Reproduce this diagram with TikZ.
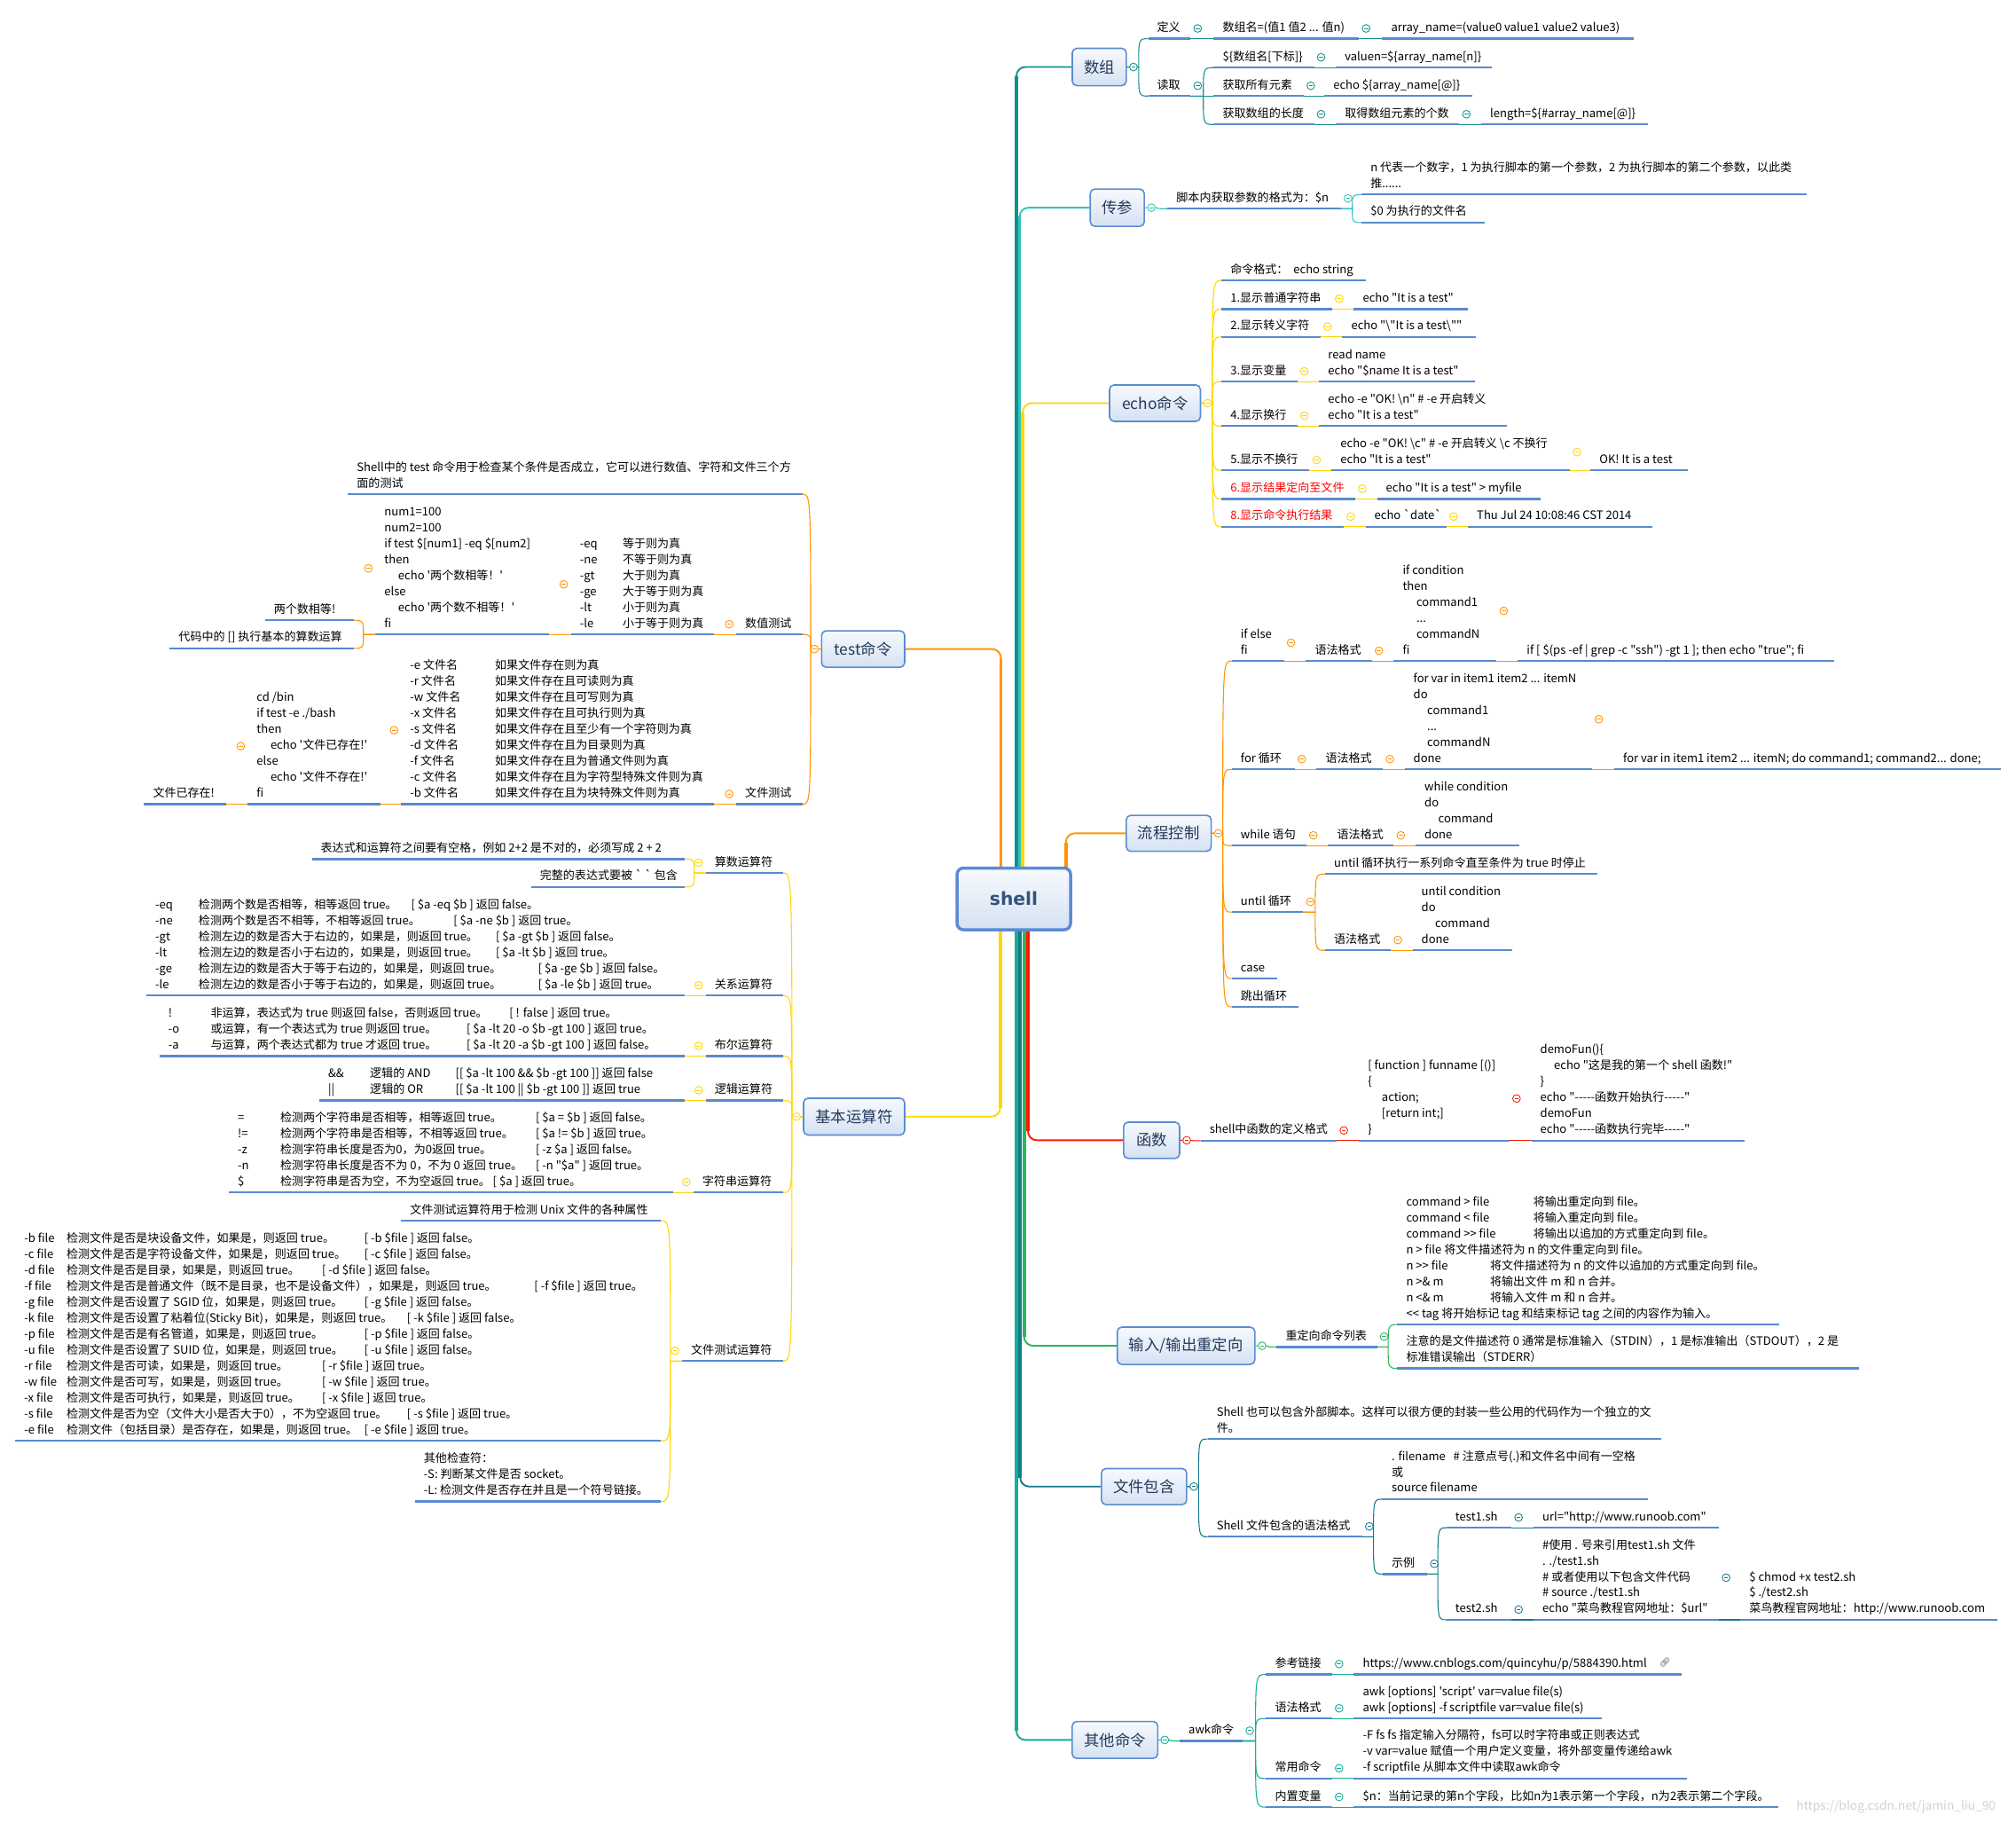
\documentclass[tikz,border=0pt]{standalone}
\usepackage{fontspec}
\usetikzlibrary{calc}
\newfontfamily\cnf{Noto Sans CJK SC}
\newfontfamily\dvs{DejaVu Sans}
\newfontfamily\emo{Noto Emoji}
\pgfdeclarelayer{bg}
\pgfsetlayers{bg,main}
\definecolor{ulb}{RGB}{88,138,208}
\definecolor{cteal}{RGB}{18,145,140}
\definecolor{cturq}{RGB}{48,196,186}
\definecolor{cyel}{RGB}{255,215,0}
\definecolor{cora}{RGB}{255,148,0}
\definecolor{cred}{RGB}{255,25,0}
\definecolor{cgrn}{RGB}{40,185,90}
\definecolor{cblu}{RGB}{22,122,140}
\definecolor{cqt}{RGB}{20,175,150}
\definecolor{boxb}{RGB}{90,140,210}
\definecolor{boxt}{RGB}{35,58,92}
\definecolor{fillt}{RGB}{247,250,254}
\definecolor{fillb}{RGB}{213,225,242}
\definecolor{shellt}{RGB}{52,82,125}
\tikzset{
  tp/.style={anchor=south west,inner xsep=7pt,inner ysep=1.8pt,outer sep=0pt,font=\cnf\fontsize{9}{12.4}\selectfont},
  ul/.style={draw=ulb,line width=1.6pt},
  cnl/.style={line width=0.75pt},
  mbox/.style={draw=boxb,line width=1.1pt,rounded corners=3.5pt,top color=fillt,bottom color=fillb,text=boxt,font=\cnf\fontsize{12}{14}\selectfont,inner sep=0pt},
  trk/.style={line width=2.6pt},
  trt/.style={line width=1.3pt,rounded corners=7pt}
}
\newcommand\tp[6][]{\pgfmathsetmacro\tpw{#4-#3-14}\node[tp,#1] (#2) at (#3,#5) {\makebox[\tpw pt][l]{\begin{tabular}[b]{@{}l@{}}#6\end{tabular}}};\draw[ul] (#2.south west) -- (#2.south east);}
\newcommand\cc[2]{\makebox[#1pt][l]{#2}}
\newcommand\ind{\hspace*{10.7pt}}
\newcommand\cn[3][]{\draw[cnl,#1] let \p1=(#2), \p2=(#3), \n1={\x1+0.55*(\x2-\x1)} in (\p1) -- (\n1,\y1) .. controls (\n1,\y2) .. (\p2);}
\newcommand\jR[3]{\cn[#1]{#2.south east}{#3.south west}}
\newcommand\jL[3]{\cn[#1]{#2.south west}{#3.south east}}
\newcommand\cR[2]{\draw[#1,fill=white,line width=0.6pt] ([xshift=5.5pt]#2.east) circle (3pt);\draw[#1,line width=0.6pt] ([xshift=3.9pt]#2.east) -- ([xshift=7.1pt]#2.east);}
\newcommand\cL[2]{\draw[#1,fill=white,line width=0.6pt] ([xshift=-5.5pt]#2.west) circle (3pt);\draw[#1,line width=0.6pt] ([xshift=-3.9pt]#2.west) -- ([xshift=-7.1pt]#2.west);}
\newcommand\trunk[3]{\begin{pgfonlayer}{bg}\draw[#1,trk] (#2) -- ($(#2 |- #3)!7pt!(#2)$);\draw[#1,trt] ($(#2 |- #3)!12pt!(#2)$) |- (#3);\end{pgfonlayer}}
\begin{document}
\begin{tikzpicture}[x=1pt,y=-1pt]
\useasboundingbox (0,0) rectangle (1568,1417);
\begin{pgfonlayer}{bg}
\fill[white] (0,0) rectangle (1568,1417);
\end{pgfonlayer}
% ---------- main boxes ----------
\node[mbox,line width=2.4pt,rounded corners=5pt,minimum width=88.3pt,minimum height=48pt,font=\dvs\bfseries\fontsize{14}{16}\selectfont,text=shellt] (shell) at (788.5,699) {shell};
\node[mbox,minimum width=42pt,minimum height=29pt] (sz) at (855,52.1) {数组};
\node[mbox,minimum width=42pt,minimum height=29pt] (cc) at (869,161.5) {传参};
\node[mbox,minimum width=70.7pt,minimum height=28.3pt] (ec) at (898.3,313.5) {echo命令};
\node[mbox,minimum width=66pt,minimum height=28pt] (lc) at (909,648) {流程控制};
\node[mbox,minimum width=43.5pt,minimum height=28.2pt] (hs) at (895.7,886.7) {函数};
\node[mbox,minimum width=107pt,minimum height=29pt] (io) at (922.5,1046.5) {输入/输出重定向};
\node[mbox,minimum width=66.3pt,minimum height=28pt] (wj) at (889.8,1156) {文件包含};
\node[mbox,minimum width=66.5pt,minimum height=28.7pt] (qt) at (867.2,1353) {其他命令};
\node[mbox,minimum width=64.6pt,minimum height=28.3pt] (ts) at (671.3,504.7) {test命令};
\node[mbox,minimum width=78.6pt,minimum height=28.6pt] (jb) at (664.3,868.3) {基本运算符};
% ---------- trunks ----------
\coordinate (k1) at (790.5,676);
\coordinate (k2) at (793,676);
\coordinate (k3) at (795.5,676);
\coordinate (k4) at (829,676);
\coordinate (k5) at (778.5,676);
\coordinate (k6) at (778,722);
\coordinate (k7) at (799.5,722);
\coordinate (k8) at (796.5,722);
\coordinate (k9) at (793.5,722);
\coordinate (k10) at (790.5,722);
\trunk{cteal}{k1}{sz.west}
\trunk{cturq}{k2}{cc.west}
\trunk{cyel}{k3}{ec.west}
\trunk{cora}{k4}{lc.west}
\trunk{cora}{k5}{ts.east}
\trunk{cyel}{k6}{jb.east}
\trunk{cred}{k7}{hs.west}
\trunk{cgrn}{k8}{io.west}
\trunk{cblu}{k9}{wj.west}
\trunk{cqt}{k10}{qt.west}
% ---------- 数组 ----------
\tp{a1}{893}{926}{30.1}{定义}
\tp{a2}{944}{1057}{30.1}{数组名=(值1 值2 ... 值n)}
\tp{a3}{1075}{1271}{30.1}{array\_name=(value0 value1 value2 value3)}
\tp{a4}{893}{926}{74.7}{读取}
\tp{a5}{944}{1022}{52.6}{\$\{数组名[下标]\}}
\tp{a6}{1039}{1160}{52.6}{valuen=\$\{array\_name[n]\}}
\tp{a7}{944}{1014}{74.7}{获取所有元素}
\tp{a8}{1030}{1145}{74.7}{echo \$\{array\_name[@]\}}
\tp{a9}{944}{1022}{96.8}{获取数组的长度}
\tp{a10}{1039}{1135}{96.8}{取得数组元素的个数}
\tp{a11}{1152}{1282}{96.8}{length=\$\{\#array\_name[@]\}}
\cn[cteal]{sz.east}{a1.south west}
\cn[cteal]{sz.east}{a4.south west}
\jR{cteal}{a1}{a2}\jR{cteal}{a2}{a3}
\jR{cteal}{a4}{a5}\jR{cteal}{a4}{a7}\jR{cteal}{a4}{a9}
\jR{cteal}{a5}{a6}\jR{cteal}{a7}{a8}\jR{cteal}{a9}{a10}\jR{cteal}{a10}{a11}
% ---------- 传参 ----------
\tp{b1}{908}{1043}{162.3}{脚本内获取参数的格式为：\$n}
\tp{b2}{1059}{1405}{151.3}{n 代表一个数字，1 为执行脚本的第一个参数，2 为执行脚本的第二个参数，以此类\\推......}
\tp{b3}{1059}{1155}{173.1}{\$0 为执行的文件名}
\cn[cturq]{cc.east}{b1.south west}
\jR{cturq}{b1}{b2}\jR{cturq}{b1}{b3}
% ---------- echo ----------
\tp{e0}{950}{1062}{218}{命令格式：\ \ echo string}
\tp{e1}{950}{1036}{240.3}{1.显示普通字符串}
\tp{e1a}{1053}{1142}{240.3}{echo "It is a test"}
\tp{e2}{950}{1027}{262}{2.显示转义字符}
\tp{e2a}{1044}{1148}{262}{echo "\textbackslash"It is a test\textbackslash""}
\tp{e3}{950}{1009}{296.8}{3.显示变量}
\tp{e3a}{1026}{1147}{296.8}{read name\\echo "\$name It is a test"}
\tp{e4}{950}{1009}{331.3}{4.显示换行}
\tp{e4a}{1026}{1172}{331.3}{echo -e "OK! \textbackslash n" \# -e 开启转义\\echo "It is a test"}
\tp{e5}{950}{1018.5}{365.8}{5.显示不换行}
\tp{e5a}{1035.6}{1221}{365.8}{echo -e "OK! \textbackslash c" \# -e 开启转义 \textbackslash c 不换行\\echo "It is a test"}
\tp{e5b}{1237}{1313}{365.8}{OK! It is a test}
\tp[text=red]{e6}{950}{1054}{388}{6.显示结果定向至文件}
\tp{e6a}{1071}{1198}{388}{echo "It is a test" > myfile}
\tp[text=red]{e8}{950}{1045}{409.7}{8.显示命令执行结果}
\tp{e8a}{1062}{1125}{409.7}{echo \textasciigrave date\textasciigrave}
\tp{e8b}{1141.7}{1285}{409.7}{Thu Jul 24 10:08:46 CST 2014}
\foreach \c in {e0,e1,e2,e3,e4,e5,e6,e8}{\cn[cyel]{ec.east}{\c.south west}}
\jR{cyel}{e1}{e1a}\jR{cyel}{e2}{e2a}\jR{cyel}{e3}{e3a}\jR{cyel}{e4}{e4a}
\jR{cyel}{e5}{e5a}\jR{cyel}{e5a}{e5b}\jR{cyel}{e6}{e6a}\jR{cyel}{e8}{e8a}\jR{cyel}{e8a}{e8b}
% ---------- 流程控制 ----------
\tp{f1}{958}{998.6}{514}{if else\\fi}
\tp{f1a}{1015.7}{1067}{514}{语法格式}
\tp{f1b}{1084}{1164}{514}{if condition\\then\\\ind command1\\\ind ...\\\ind commandN\\fi}
\tp{f1c}{1180.5}{1426.7}{514}{if [ \$(ps -ef | grep -c "ssh") -gt 1 ]; then echo "true"; fi}
\tp{f2}{958}{1007}{598.3}{for 循环}
\tp{f2a}{1024}{1075.5}{598.3}{语法格式}
\tp{f2b}{1092.4}{1238}{598.3}{for var in item1 item2 ... itemN\\do\\\ind command1\\\ind ...\\\ind commandN\\done}
\tp{f2c}{1255.5}{1556}{598.3}{for var in item1 item2 ... itemN; do command1; command2... done;}
\tp{f3}{958}{1016}{657.6}{while 语句}
\tp{f3a}{1033}{1084}{657.6}{语法格式}
\tp{f3b}{1101}{1181.6}{657.6}{while condition\\do\\\ind command\\done}
\tp{f4}{958}{1013.6}{709.3}{until 循环}
\tp{f4a}{1030.6}{1242.5}{679.7}{until 循环执行一系列命令直至条件为 true 时停止}
\tp{f4b}{1030.6}{1081.7}{739}{语法格式}
\tp{f4c}{1098.6}{1176}{739}{until condition\\do\\\ind command\\done}
\tp{f5}{958}{993.6}{761}{case}
\tp{f6}{958}{1010}{783}{跳出循环}
\foreach \c in {f1,f2,f3,f4,f5,f6}{\cn[cora]{lc.east}{\c.south west}}
\jR{cora}{f1}{f1a}\jR{cora}{f1a}{f1b}\jR{cora}{f1b}{f1c}
\jR{cora}{f2}{f2a}\jR{cora}{f2a}{f2b}\jR{cora}{f2b}{f2c}
\jR{cora}{f3}{f3a}\jR{cora}{f3a}{f3b}
\jR{cora}{f4}{f4a}\jR{cora}{f4}{f4b}\jR{cora}{f4b}{f4c}
% ---------- 函数 ----------
\tp{h1}{933.8}{1039.7}{887}{shell中函数的定义格式}
\tp{h2}{1057}{1174}{887}{[ function ] funname [()]\\\{\\\ind action;\\\ind [return int;]\\\}}
\tp{h3}{1191}{1357}{887}{demoFun()\{\\\ind echo "这是我的第一个 shell 函数!"\\\}\\echo "-----函数开始执行-----"\\demoFun\\echo "-----函数执行完毕-----"}
\cn[cred]{hs.east}{h1.south west}
\jR{cred}{h1}{h2}\jR{cred}{h2}{h3}
% ---------- 输入/输出重定向 ----------
\tp{i1}{993}{1071}{1047.4}{重定向命令列表}
\tp{i2}{1086.8}{1384}{1030}{\cc{98.8}{command > file}将输出重定向到 file。\\\cc{98.8}{command < file}将输入重定向到 file。\\\cc{98.8}{command >> file}将输出以追加的方式重定向到 file。\\n > file 将文件描述符为 n 的文件重定向到 file。\\\cc{65.2}{n >> file}将文件描述符为 n 的文件以追加的方式重定向到 file。\\\cc{65.2}{n >\& m}将输出文件 m 和 n 合并。\\\cc{65.2}{n <\& m}将输入文件 m 和 n 合并。\\<< tag 将开始标记 tag 和结束标记 tag 之间的内容作为输入。}
\tp{i3}{1086.8}{1446}{1064}{注意的是文件描述符 0 通常是标准输入（STDIN），1 是标准输出（STDOUT），2 是\\标准错误输出（STDERR）}
\cn[cgrn]{io.east}{i1.south west}
\jR{cgrn}{i1}{i2}\jR{cgrn}{i1}{i3}
% ---------- 文件包含 ----------
\tp{w1}{939.3}{1292}{1119}{Shell 也可以包含外部脚本。这样可以很方便的封装一些公用的代码作为一个独立的文\\件。}
\tp{w2}{939.3}{1059.5}{1195}{Shell 文件包含的语法格式}
\tp{w3}{1075.4}{1282}{1165.8}{. filename\ \ \ \# 注意点号(.)和文件名中间有一空格\\或\\source filename}
\tp{w4}{1075.4}{1110}{1224}{示例}
\tp{w5}{1125}{1175.6}{1188}{test1.sh}
\tp{w6}{1192.7}{1337}{1188}{url="http://www.runoob.com"}
\tp{w7}{1125}{1175.6}{1259.6}{test2.sh}
\tp{w8}{1192.7}{1337}{1259.6}{\#使用 . 号来引用test1.sh 文件\\. ./test1.sh\\\# 或者使用以下包含文件代码\\\# source ./test1.sh\\echo "菜鸟教程官网地址：\$url"}
\tp{w9}{1353.6}{1553.7}{1259.6}{\$ chmod +x test2.sh\\\$ ./test2.sh\\菜鸟教程官网地址：http://www.runoob.com}
\cn[cblu]{wj.east}{w1.south west}
\cn[cblu]{wj.east}{w2.south west}
\jR{cblu}{w2}{w3}\jR{cblu}{w2}{w4}\jR{cblu}{w4}{w5}\jR{cblu}{w4}{w7}
\jR{cblu}{w5}{w6}\jR{cblu}{w7}{w8}\jR{cblu}{w8}{w9}
% ---------- 其他命令 ----------
\tp{q1}{917.5}{966.5}{1353.8}{awk命令}
\tp{q2}{984.7}{1036}{1302}{参考链接}
\tp{q3}{1053}{1307.8}{1302}{https://www.cnblogs.com/quincyhu/p/5884390.html}
\tp{q4}{984.7}{1036}{1336.4}{语法格式}
\tp{q5}{1053}{1245.8}{1336.4}{awk [options] 'script' var=value file(s)\\awk [options] -f scriptfile var=value file(s)}
\tp{q6}{984.7}{1036}{1383}{常用命令}
\tp{q7}{1053}{1312}{1383}{-F fs fs 指定输入分隔符，fs可以时字符串或正则表达式\\-v var=value 赋值一个用户定义变量，将外部变量传递给awk\\-f scriptfile 从脚本文件中读取awk命令}
\tp{q8}{984.7}{1036}{1405.3}{内置变量}
\tp{q9}{1053}{1383}{1405.3}{\$n：当前记录的第n个字段，比如n为1表示第一个字段，n为2表示第二个字段。}
\cn[cqt]{qt.east}{q1.south west}
\jR{cqt}{q1}{q2}\jR{cqt}{q1}{q4}\jR{cqt}{q1}{q6}\jR{cqt}{q1}{q8}
\jR{cqt}{q2}{q3}\jR{cqt}{q4}{q5}\jR{cqt}{q6}{q7}\jR{cqt}{q8}{q9}
\node[font=\emo\fontsize{7}{8}\selectfont,text=black!70,inner sep=0pt] (lk) at (1295,1292.5) {🔗};
% ---------- test命令 ----------
\tp{t1}{270.6}{624}{384.4}{Shell中的 test 命令用于检查某个条件是否成立，它可以进行数值、字符和文件三个方\\面的测试}
\tp{t2}{572.6}{624}{493.4}{数值测试}
\tp{t3}{444}{555.3}{493.4}{\cc{33.3}{-eq}等于则为真\\\cc{33.3}{-ne}不等于则为真\\\cc{33.3}{-gt}大于则为真\\\cc{33.3}{-ge}大于等于则为真\\\cc{33.3}{-lt}小于则为真\\\cc{33.3}{-le}小于等于则为真}
\tp{t4}{292}{427}{493.4}{num1=100\\num2=100\\if test \$[num1] -eq \$[num2]\\then\\\ind echo '两个数相等！'\\else\\\ind echo '两个数不相等！'\\fi}
\tp{t5}{206}{275}{482.4}{两个数相等!}
\tp{t6}{132}{275}{504.2}{代码中的 [] 执行基本的算数运算}
\tp{t7}{572.6}{624}{625.4}{文件测试}
\tp{t8}{312}{555.3}{625.4}{\cc{66}{-e 文件名}如果文件存在则为真\\\cc{66}{-r 文件名}如果文件存在且可读则为真\\\cc{66}{-w 文件名}如果文件存在且可写则为真\\\cc{66}{-x 文件名}如果文件存在且可执行则为真\\\cc{66}{-s 文件名}如果文件存在且至少有一个字符则为真\\\cc{66}{-d 文件名}如果文件存在且为目录则为真\\\cc{66}{-f 文件名}如果文件存在且为普通文件则为真\\\cc{66}{-c 文件名}如果文件存在且为字符型特殊文件则为真\\\cc{66}{-b 文件名}如果文件存在且为块特殊文件则为真}
\tp{t9}{192.7}{295.7}{625.4}{cd /bin\\if test -e ./bash\\then\\\ind echo '文件已存在!'\\else\\\ind echo '文件不存在!'\\fi}
\tp{t10}{112}{176}{625.4}{文件已存在!}
\cn[cora]{ts.west}{t1.south east}
\cn[cora]{ts.west}{t2.south east}
\cn[cora]{ts.west}{t7.south east}
\jL{cora}{t2}{t3}\jL{cora}{t3}{t4}\jL{cora}{t4}{t5}\jL{cora}{t4}{t6}
\jL{cora}{t7}{t8}\jL{cora}{t8}{t9}\jL{cora}{t9}{t10}
% ---------- 基本运算符 ----------
\tp{o1}{548.9}{609}{678.8}{算数运算符}
\tp{o1a}{242.5}{532.4}{668}{表达式和运算符之间要有空格，例如 2+2 是不对的，必须写成 2 + 2}
\tp{o1b}{413}{532.4}{689.8}{完整的表达式要被 \textasciigrave\ \textasciigrave\ 包含}
\tp{o2}{548.9}{609}{774.2}{关系运算符}
\tp{o2a}{113.8}{532.4}{774.2}{\cc{33.7}{-eq}\cc{165.3}{检测两个数是否相等，相等返回 true。}[ \$a -eq \$b ] 返回 false。\\\cc{33.7}{-ne}\cc{198.2}{检测两个数是否不相等，不相等返回 true。}[ \$a -ne \$b ] 返回 true。\\\cc{33.7}{-gt}\cc{231.2}{检测左边的数是否大于右边的，如果是，则返回 true。}[ \$a -gt \$b ] 返回 false。\\\cc{33.7}{-lt}\cc{231.2}{检测左边的数是否小于右边的，如果是，则返回 true。}[ \$a -lt \$b ] 返回 true。\\\cc{33.7}{-ge}\cc{264.1}{检测左边的数是否大于等于右边的，如果是，则返回 true。}[ \$a -ge \$b ] 返回 false。\\\cc{33.7}{-le}\cc{264.1}{检测左边的数是否小于等于右边的，如果是，则返回 true。}[ \$a -le \$b ] 返回 true。}
\tp{o3}{548.9}{609}{821.3}{布尔运算符}
\tp{o3a}{124}{532.4}{821.3}{\cc{32.9}{!}\cc{232.3}{非运算，表达式为 true 则返回 false，否则返回 true。}[ ! false ] 返回 true。\\\cc{32.9}{-o}\cc{199}{或运算，有一个表达式为 true 则返回 true。}[ \$a -lt 20 -o \$b -gt 100 ] 返回 true。\\\cc{32.9}{-a}\cc{199}{与运算，两个表达式都为 true 才返回 true。}[ \$a -lt 20 -a \$b -gt 100 ] 返回 false。}
\tp{o4}{548.9}{609}{855.8}{逻辑运算符}
\tp{o4a}{248.3}{532.4}{855.8}{\cc{32.5}{\&\&}\cc{66.6}{逻辑的 AND}[[ \$a -lt 100 \&\& \$b -gt 100 ]] 返回 false\\\cc{32.5}{||}\cc{66.6}{逻辑的 OR}[[ \$a -lt 100 || \$b -gt 100 ]] 返回 true}
\tp{o5}{539.3}{609}{927.3}{字符串运算符}
\tp{o5a}{178}{523.4}{927.3}{\cc{33}{=}\cc{198.7}{检测两个字符串是否相等，相等返回 true。}[ \$a = \$b ] 返回 false。\\\cc{33}{!=}\cc{198.7}{检测两个字符串是否相等，不相等返回 true。}[ \$a != \$b ] 返回 true。\\\cc{33}{-z}\cc{198.7}{检测字符串长度是否为0，为0返回 true。}[ -z \$a ] 返回 false。\\\cc{33}{-n}\cc{198.7}{检测字符串长度是否不为 0，不为 0 返回 true。}[ -n "\$a" ] 返回 true。\\\cc{33}{\$}检测字符串是否为空，不为空返回 true。 [ \$a ] 返回 true。}
\tp{o6}{530.5}{609}{1058.4}{文件测试运算符}
\tp{o6a}{312}{514}{949.2}{文件测试运算符用于检测 Unix 文件的各种属性}
\tp{o6b}{11.9}{514}{1120.5}{\cc{32.9}{-b file}\cc{231.6}{检测文件是否是块设备文件，如果是，则返回 true。}[ -b \$file ] 返回 false。\\\cc{32.9}{-c file}\cc{231.6}{检测文件是否是字符设备文件，如果是，则返回 true。}[ -c \$file ] 返回 false。\\\cc{32.9}{-d file}\cc{198.7}{检测文件是否是目录，如果是，则返回 true。}[ -d \$file ] 返回 false。\\\cc{32.9}{-f file}\cc{363.8}{检测文件是否是普通文件（既不是目录，也不是设备文件），如果是，则返回 true。}[ -f \$file ] 返回 true。\\\cc{32.9}{-g file}\cc{231.6}{检测文件是否设置了 SGID 位，如果是，则返回 true。}[ -g \$file ] 返回 false。\\\cc{32.9}{-k file}\cc{264.8}{检测文件是否设置了粘着位(Sticky Bit)，如果是，则返回 true。}[ -k \$file ] 返回 false。\\\cc{32.9}{-p file}\cc{231.6}{检测文件是否是有名管道，如果是，则返回 true。}[ -p \$file ] 返回 false。\\\cc{32.9}{-u file}\cc{231.6}{检测文件是否设置了 SUID 位，如果是，则返回 true。}[ -u \$file ] 返回 false。\\\cc{32.9}{-r file}\cc{198.7}{检测文件是否可读，如果是，则返回 true。}[ -r \$file ] 返回 true。\\\cc{32.9}{-w file}\cc{198.7}{检测文件是否可写，如果是，则返回 true。}[ -w \$file ] 返回 true。\\\cc{32.9}{-x file}\cc{198.7}{检测文件是否可执行，如果是，则返回 true。}[ -x \$file ] 返回 true。\\\cc{32.9}{-s file}\cc{264.8}{检测文件是否为空（文件大小是否大于0），不为空返回 true。}[ -s \$file ] 返回 true。\\\cc{32.9}{-e file}\cc{231.6}{检测文件（包括目录）是否存在，如果是，则返回 true。}[ -e \$file ] 返回 true。}
\tp{o6c}{322.7}{514}{1167.6}{其他检查符：\\-S: 判断某文件是否 socket。\\-L: 检测文件是否存在并且是一个符号链接。}
\foreach \c in {o1,o2,o3,o4,o5,o6}{\cn[cyel]{jb.west}{\c.south east}}
\jL{cyel}{o1}{o1a}\jL{cyel}{o1}{o1b}\jL{cyel}{o2}{o2a}\jL{cyel}{o3}{o3a}
\jL{cyel}{o4}{o4a}\jL{cyel}{o5}{o5a}
\jL{cyel}{o6}{o6a}\jL{cyel}{o6}{o6b}\jL{cyel}{o6}{o6c}
% ---------- collapse circles ----------
\foreach \n in {a1,a2,a4,a5,a7,a9,a10}{\cR{cteal}{\n}}
\draw[cteal,fill=white,line width=0.6pt] ([xshift=5pt]sz.east) circle (3pt);
\draw[cteal,line width=0.6pt] ([xshift=3.4pt]sz.east) -- ([xshift=6.6pt]sz.east);
\cR{cturq}{b1}
\draw[cturq,fill=white,line width=0.6pt] ([xshift=5pt]cc.east) circle (3pt);
\draw[cturq,line width=0.6pt] ([xshift=3.4pt]cc.east) -- ([xshift=6.6pt]cc.east);
\foreach \n in {e1,e2,e3,e4,e5,e5a,e6,e8,e8a}{\cR{cyel}{\n}}
\draw[cyel,fill=white,line width=0.6pt] ([xshift=5pt]ec.east) circle (3pt);
\draw[cyel,line width=0.6pt] ([xshift=3.4pt]ec.east) -- ([xshift=6.6pt]ec.east);
\foreach \n in {f1,f1a,f1b,f2,f2a,f2b,f3,f3a,f4,f4b}{\cR{cora}{\n}}
\draw[cora,fill=white,line width=0.6pt] ([xshift=5pt]lc.east) circle (3pt);
\draw[cora,line width=0.6pt] ([xshift=3.4pt]lc.east) -- ([xshift=6.6pt]lc.east);
\foreach \n in {h1,h2}{\cR{cred}{\n}}
\draw[cred,fill=white,line width=0.6pt] ([xshift=5pt]hs.east) circle (3pt);
\draw[cred,line width=0.6pt] ([xshift=3.4pt]hs.east) -- ([xshift=6.6pt]hs.east);
\cR{cgrn}{i1}
\draw[cgrn,fill=white,line width=0.6pt] ([xshift=5pt]io.east) circle (3pt);
\draw[cgrn,line width=0.6pt] ([xshift=3.4pt]io.east) -- ([xshift=6.6pt]io.east);
\foreach \n in {w2,w4,w5,w7,w8}{\cR{cblu}{\n}}
\draw[cblu,fill=white,line width=0.6pt] ([xshift=5pt]wj.east) circle (3pt);
\draw[cblu,line width=0.6pt] ([xshift=3.4pt]wj.east) -- ([xshift=6.6pt]wj.east);
\foreach \n in {q1,q2,q4,q6,q8}{\cR{cqt}{\n}}
\draw[cqt,fill=white,line width=0.6pt] ([xshift=5pt]qt.east) circle (3pt);
\draw[cqt,line width=0.6pt] ([xshift=3.4pt]qt.east) -- ([xshift=6.6pt]qt.east);
\foreach \n in {t2,t3,t4,t7,t8,t9}{\cL{cora}{\n}}
\draw[cora,fill=white,line width=0.6pt] ([xshift=-5pt]ts.west) circle (3pt);
\draw[cora,line width=0.6pt] ([xshift=-3.4pt]ts.west) -- ([xshift=-6.6pt]ts.west);
\foreach \n in {o1,o2,o3,o4,o5,o6}{\cL{cyel}{\n}}
\draw[cyel,fill=white,line width=0.6pt] ([xshift=-5pt]jb.west) circle (3pt);
\draw[cyel,line width=0.6pt] ([xshift=-3.4pt]jb.west) -- ([xshift=-6.6pt]jb.west);
% ---------- watermark ----------
\node[anchor=west,text=black!18,font=\cnf\fontsize{9.5}{11}\selectfont,inner sep=0pt] (wm) at (1397,1405) {https://blog.csdn.net/jamin\_liu\_90};
\end{tikzpicture}
\end{document}
